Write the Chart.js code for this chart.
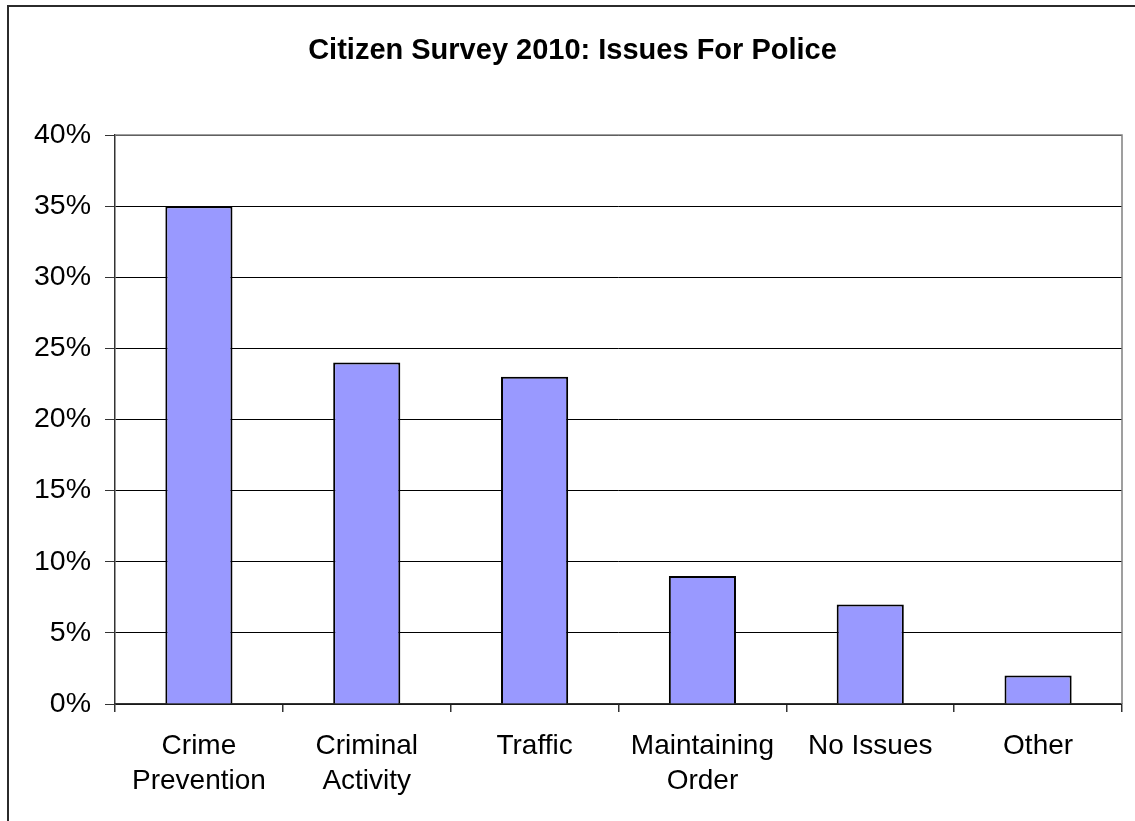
<!DOCTYPE html>
<html>
<head>
<meta charset="utf-8">
<script src="https://cdn.jsdelivr.net/npm/chart.js@4/dist/chart.umd.min.js"></script>
<style>
  html, body { margin: 0; padding: 0; background: #fff; }
  #wrap { width: 1135px; height: 821px; position: relative; }
</style>
</head>
<body>
<div id="wrap"><canvas id="c" width="1135" height="821"></canvas></div>
<script>
// Survey categories (two-line labels) and share of responses, in percent
const categories = [
  ['Crime', 'Prevention'],
  ['Criminal', 'Activity'],
  ['Traffic'],
  ['Maintaining', 'Order'],
  ['No Issues'],
  ['Other']
];
const shares = [35, 24, 23, 9, 7, 2];
const yTicks = [0, 5, 10, 15, 20, 25, 30, 35, 40];

const FONT = "'Liberation Sans', Arial, sans-serif";

// Frame around the whole chart and the gray box around the plot area
const framePlugin = {
  id: 'frame',
  beforeDraw(chart) {
    const ctx = chart.ctx;
    ctx.save();
    ctx.fillStyle = '#fff';
    ctx.fillRect(0, 0, chart.width, chart.height);
    ctx.strokeStyle = '#2b2b2b';
    ctx.lineWidth = 2;
    ctx.strokeRect(8, 6, chart.width + 50, chart.height + 50);
    ctx.restore();
  },
  afterDatasetsDraw(chart) {
    const { ctx, chartArea: a } = chart;
    ctx.save();
    ctx.strokeStyle = '#808080';
    ctx.lineWidth = 1.5;
    ctx.beginPath();
    ctx.moveTo(a.left, a.top);
    ctx.lineTo(a.right, a.top);
    ctx.lineTo(a.right, a.bottom);
    ctx.stroke();
    ctx.restore();
  }
};

new Chart(document.getElementById('c'), {
  type: 'bar',
  data: {
    labels: categories,
    datasets: [{
      data: shares,
      backgroundColor: '#9999ff',
      borderColor: '#000',
      borderWidth: 2,
      borderSkipped: 'bottom',
      categoryPercentage: 1,
      barPercentage: 0.4
    }]
  },
  options: {
    responsive: false,
    animation: false,
    layout: { padding: { left: 23, right: 13, top: 0, bottom: 0 } },
    plugins: {
      legend: { display: false },
      tooltip: { enabled: false },
      title: {
        display: true,
        text: 'Citizen Survey 2010: Issues For Police',
        color: '#000',
        font: { family: FONT, size: 29, weight: 'bold', lineHeight: 1 },
        padding: { top: 36, bottom: 70 }
      }
    },
    scales: {
      x: {
        grid: {
          offset: true,
          drawOnChartArea: false,
          drawTicks: true,
          tickLength: 8,
          color: '#333',
          lineWidth: 1.5
        },
        border: { color: '#333', width: 1.5 },
        ticks: {
          color: '#000',
          maxRotation: 0,
          autoSkip: false,
          padding: 17,
          font: { family: FONT, size: 28, lineHeight: 1.25 }
        },
        afterFit(s) { s.height = 117; }
      },
      y: {
        min: 0,
        max: 40,
        afterBuildTicks(s) { s.ticks = yTicks.map(v => ({ value: v })); },
        grid: {
          color: '#000',
          lineWidth: 1,
          tickLength: 10,
          tickColor: '#333'
        },
        border: { color: '#333', width: 1.5 },
        ticks: {
          color: '#000',
          padding: 14,
          font: { family: FONT, size: 28.5 },
          callback: v => v + '%'
        },
        afterFit(s) { s.width = 92; }
      }
    }
  },
  plugins: [framePlugin]
});
</script>
</body>
</html>
